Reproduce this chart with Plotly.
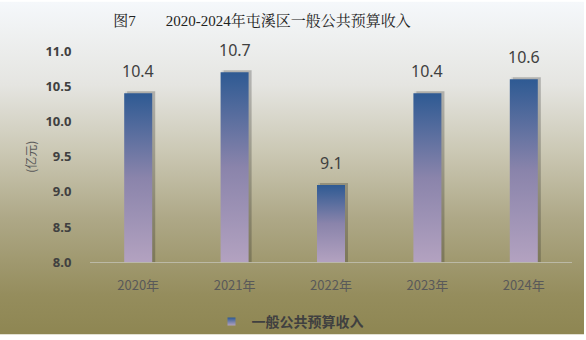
import base64
import plotly.graph_objects as go

# ---- data ----
years = ["2020年", "2021年", "2022年", "2023年", "2024年"]
revenue = [10.4, 10.7, 9.1, 10.4, 10.6]
series_name = "一般公共预算收入"
y_ticks = [8.0, 8.5, 9.0, 9.5, 10.0, 10.5, 11.0]

# ---- layout geometry ----
W, H = 586, 340
ML, MR, MT, MB = 90, 14, 51, 75
plot_w = W - ML - MR
plot_h = H - MT - MB
y_min, y_max = 8.0, 11.0
x_lo, x_hi = -0.5, len(years) - 0.5
px_x = (x_hi - x_lo) / plot_w          # data units per pixel (x)
px_y = (y_max - y_min) / plot_h        # data units per pixel (y)
half_w = 14 * px_x                      # half bar width (~28px bars)

bar_scale = [[0.0, "#b3a2c0"], [0.5, "#8a84ab"], [1.0, "#2e5a93"]]
CJK = "Noto Sans CJK SC, Noto Sans, sans-serif"
NUM = "Noto Sans, Noto Sans CJK SC, sans-serif"

fig = go.Figure()

# soft drop shadow behind each bar (offset right/up, two layers)
for i, v in enumerate(revenue):
    for dx, dy, grow, alpha in [(2, 1, 1, 0.07), (3, 2, 0, 0.20)]:
        x0 = i - half_w + dx * px_x - grow * px_x
        x1 = i + half_w + dx * px_x + grow * px_x
        y1 = v + dy * px_y + grow * px_y
        fig.add_trace(go.Scatter(
            x=[x0, x1, x1, x0, x0], y=[y_min, y_min, y1, y1, y_min],
            mode="lines", fill="toself", line=dict(width=0),
            fillcolor=f"rgba(30,30,30,{alpha})",
            hoverinfo="skip", showlegend=False))

# gradient-filled bars
for i, v in enumerate(revenue):
    x0, x1 = i - half_w, i + half_w
    fig.add_trace(go.Scatter(
        x=[x0, x1, x1, x0, x0], y=[y_min, y_min, v, v, y_min],
        mode="lines", fill="toself", line=dict(width=0),
        fillgradient=dict(type="vertical", colorscale=bar_scale),
        name=series_name, legendgroup="rev", showlegend=False,
        hovertemplate=f"{years[i]}: {v}<extra></extra>"))

# legend entry with a small gradient square
fig.add_trace(go.Scatter(
    x=[None], y=[None], mode="markers", name=series_name, legendgroup="rev",
    marker=dict(symbol="square", size=8, color="#2e5a93",
                gradient=dict(type="vertical", color="#b3a2c0"))))

# value labels above the bars
for i, v in enumerate(revenue):
    fig.add_annotation(x=i, y=v, text=f"{v:.1f}", showarrow=False,
                       yanchor="bottom", yshift=9,
                       font=dict(family=NUM, size=16, color="#404040"))

# vertical background gradient
svg = (
    '<svg xmlns="http://www.w3.org/2000/svg" width="100" height="100" '
    'preserveAspectRatio="none" viewBox="0 0 100 100">'
    '<defs><linearGradient id="g" x1="0" y1="0" x2="0" y2="1">'
    '<stop offset="0" stop-color="#f5f8fb"/>'
    '<stop offset="0.25" stop-color="#e5e5e1"/>'
    '<stop offset="0.45" stop-color="#cbc8b4"/>'
    '<stop offset="0.65" stop-color="#aea887"/>'
    '<stop offset="0.88" stop-color="#958d5d"/>'
    '<stop offset="1" stop-color="#8e8652"/>'
    '</linearGradient></defs>'
    '<rect width="100" height="100" fill="url(#g)"/></svg>'
)
svg_uri = "data:image/svg+xml;base64," + base64.b64encode(svg.encode()).decode()
bg_left, bg_top, bg_w, bg_h = 0, 1, W - 2, H - 3
fig.add_layout_image(
    source=svg_uri, xref="paper", yref="paper",
    x=(bg_left - ML) / plot_w, y=(H - MB - bg_top) / plot_h,
    sizex=bg_w / plot_w, sizey=bg_h / plot_h,
    xanchor="left", yanchor="top", sizing="stretch", layer="below")

fig.update_layout(
    width=W, height=H,
    margin=dict(l=ML, r=MR, t=MT, b=MB),
    paper_bgcolor="white", plot_bgcolor="rgba(0,0,0,0)",
    title=dict(text="图7\u3000\u30002020-2024年屯溪区一般公共预算收入",
               x=262 / W, xanchor="center", xref="container",
               y=1 - 21 / H, yanchor="middle", yref="container",
               font=dict(family="Liberation Serif, Noto Serif CJK SC, Noto Sans CJK SC, serif",
                         size=15, color="#222222")),
    xaxis=dict(range=[x_lo, x_hi], tickvals=list(range(len(years))), ticktext=years,
               showgrid=False, zeroline=False, showline=True,
               linecolor="rgba(200,200,190,0.7)", linewidth=1,
               ticks="outside", ticklen=11, tickcolor="rgba(0,0,0,0)",
               tickfont=dict(family=CJK, size=13, color="#595959")),
    yaxis=dict(range=[y_min, y_max], tickvals=y_ticks, tickformat=".1f",
               showgrid=False, zeroline=False, showline=False,
               ticks="outside", ticklen=15, tickcolor="rgba(0,0,0,0)",
               tickfont=dict(family=NUM, size=13, color="#404040", weight="bold"),
               title=dict(text="(亿元)", standoff=6,
                          font=dict(family=CJK, size=12, color="#595959"))),
    legend=dict(orientation="h", xref="container", yref="container",
                x=290 / W, xanchor="center", y=1 - 322 / H, yanchor="middle",
                bgcolor="rgba(0,0,0,0)",
                font=dict(family=CJK, size=14, color="#404040", weight="bold")),
    hovermode="closest",
)

fig.write_html("out.html")
